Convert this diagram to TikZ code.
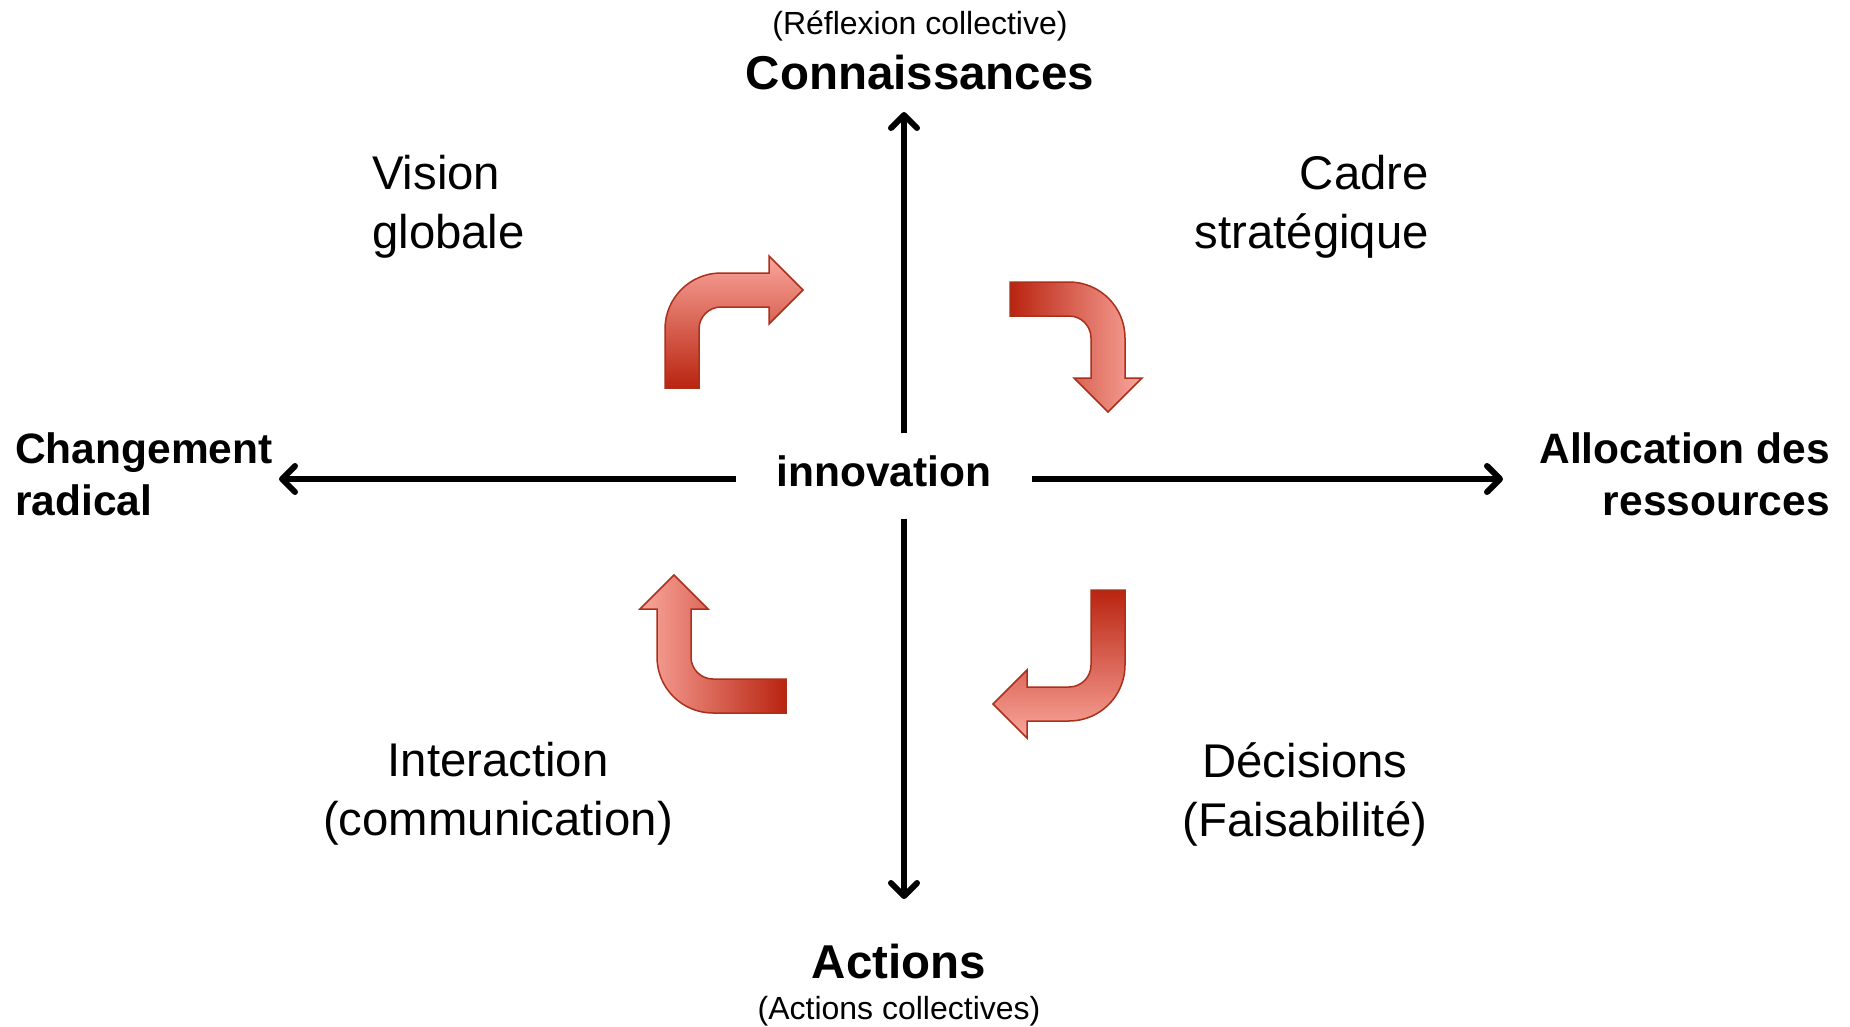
\documentclass[tikz,border=0pt]{standalone}
\usepackage{fontspec}
\setmainfont{Liberation Sans}
\usetikzlibrary{arrows.meta}
\usetikzlibrary{positioning}
\definecolor{arrdark}{RGB}{185,36,16}
\definecolor{arrlight}{RGB}{250,166,156}
\definecolor{arredge}{RGB}{170,48,28}

\begin{document}
\begin{tikzpicture}[
			x=1pt, y=-1pt,
			every node/.style={inner sep=0pt},
			axis/.style={line width=6pt, -{Straight Barb[length=13pt, width=26pt, round]}},
			bent/.style={draw=arredge, line width=1.5pt},
			side/.style={font=\fontsize{42.5}{52}\selectfont\bfseries},
			pole/.style={font=\fontsize{47.5}{57}\selectfont\bfseries},
			sub/.style={font=\fontsize{32}{38}\selectfont},
			quad/.style={font=\fontsize{47.3}{59}\selectfont}
		]
		\useasboundingbox (0,0) rectangle (1850,1026);

		% centre of the cross
		\node[side, minimum width=296pt, minimum height=85pt, text depth=10pt] (inn) at (884,476) {innovation};

		% axis ends
		\coordinate (ktip) at (904,112);
		\coordinate (atip) at (904,899);
		\coordinate (ctip) at (279,479);
		\coordinate (rtip) at (1503,479);

		% the four axes
		\draw[axis] (inn.north -| ktip) -- (ktip);
		\draw[axis] (inn.south -| atip) -- (atip);
		\draw[axis] (inn.west |- ctip) -- (ctip);
		\draw[axis] (inn.east |- rtip) -- (rtip);

		% pole labels
		\node[sub] (refl) at (920,26) {(Réflexion collective)};
		\node[pole] (conn) at (920,73) {Connaissances};
		\node[pole] (act) at (899,962) {Actions};
		\node[sub] (actc) at (899,1011) {(Actions collectives)};
		\node[side, anchor=west, align=left] (chg) at (15,474) {Changement\\radical};
		\node[side, anchor=east, align=right] (alloc) at (1830,474) {Allocation des\\ressources};

		% quadrant labels
		\node[quad, anchor=west, align=left] (vis) at (372,207) {Vision\\globale};
		\node[quad, anchor=east, align=right] (cadre) at (1429,207) {Cadre\\stratégique};
		\node[quad, align=center] (inter) at (498,794) {Interaction\\(communication)};
		\node[quad, align=center] (deci) at (1305,794) {Décisions\\(Faisabilité)};

		% bent arrows, turning clockwise
		\shadedraw[bent, top color=arrlight, bottom color=arrdark]
			(665,388) -- (665,329) arc[start angle=180, end angle=270, radius=56]
			-- (769,273) -- (769,256) -- (803,290) -- (769,324) -- (769,307)
			-- (721,307) arc[start angle=270, end angle=180, radius=22] -- (699,388) -- cycle;
		\shadedraw[bent, left color=arrdark, right color=arrlight]
			(1010,282) -- (1069,282) arc[start angle=270, end angle=360, radius=56]
			-- (1125,378) -- (1142,378) -- (1108,412) -- (1074,378) -- (1091,378)
			-- (1091,338) arc[start angle=0, end angle=-90, radius=22] -- (1010,316) -- cycle;
		\shadedraw[bent, left color=arrlight, right color=arrdark]
			(786,713) -- (713,713) arc[start angle=90, end angle=180, radius=56]
			-- (657,609) -- (640,609) -- (674,575) -- (708,609) -- (691,609)
			-- (691,657) arc[start angle=180, end angle=90, radius=22] -- (786,679) -- cycle;
		\shadedraw[bent, top color=arrdark, bottom color=arrlight]
			(1125,590) -- (1125,665) arc[start angle=0, end angle=90, radius=56]
			-- (1027,721) -- (1027,738) -- (993,704) -- (1027,670) -- (1027,687)
			-- (1069,687) arc[start angle=90, end angle=0, radius=22] -- (1091,590) -- cycle;

	\end{tikzpicture}
\end{document}
